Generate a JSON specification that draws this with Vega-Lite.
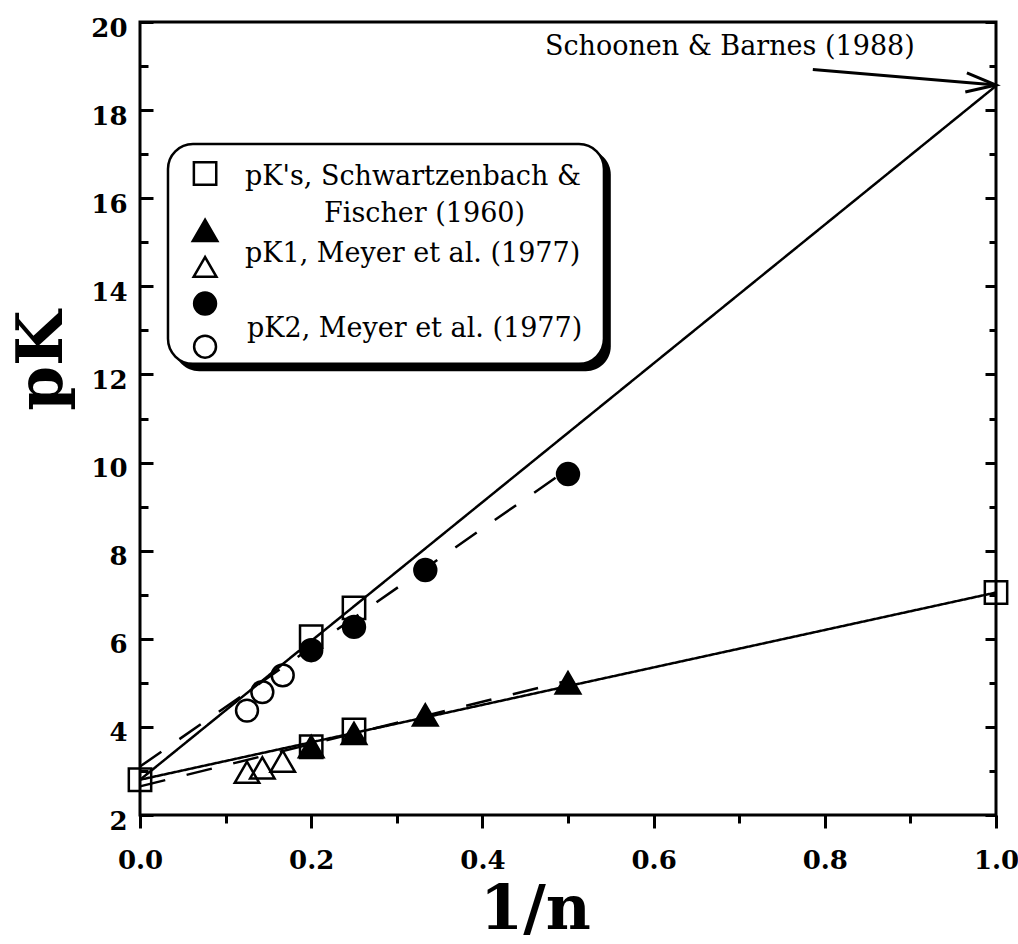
{
  "$schema": "https://vega.github.io/schema/vega-lite/v6.json",
  "width": 856,
  "height": 793,
  "autosize": "none",
  "padding": {"left": 140, "top": 22, "right": 22, "bottom": 129},
  "background": "white",
  "config": {
    "view": {"stroke": "black", "strokeWidth": 3},
    "font": "DejaVu Serif",
    "axis": {
      "grid": false,
      "domain": false,
      "tickColor": "black",
      "tickWidth": 3,
      "labelColor": "black",
      "labelFont": "DejaVu Serif",
      "labelFontWeight": "bold",
      "labelFontSize": 26,
      "labelFlush": false,
      "labelOverlap": false,
      "titleColor": "black",
      "titleFont": "DejaVu Serif",
      "titleFontWeight": "bold"
    }
  },
  "datasets": {
    "fits": [
      {"fit": "pK2 limit", "style": "solid", "x": 0, "y": 2.8},
      {"fit": "pK2 limit", "style": "solid", "x": 1, "y": 18.55},
      {"fit": "pK1 limit", "style": "solid", "x": 0, "y": 2.8},
      {"fit": "pK1 limit", "style": "solid", "x": 1, "y": 7.05},
      {"fit": "pK2 Meyer", "style": "dashed", "x": 0, "y": 3.1},
      {"fit": "pK2 Meyer", "style": "dashed", "x": 0.5, "y": 9.85},
      {"fit": "pK1 Meyer", "style": "dashed", "x": 0, "y": 2.65},
      {"fit": "pK1 Meyer", "style": "dashed", "x": 0.5, "y": 5.05}
    ],
    "measurements": [
      {"series": "Schwartzenbach & Fischer", "x": 0, "y": 2.8},
      {"series": "Schwartzenbach & Fischer", "x": 0.2, "y": 3.55},
      {"series": "Schwartzenbach & Fischer", "x": 0.25, "y": 3.93},
      {"series": "Schwartzenbach & Fischer", "x": 0.2, "y": 6.05},
      {"series": "Schwartzenbach & Fischer", "x": 0.25, "y": 6.7},
      {"series": "Schwartzenbach & Fischer", "x": 1, "y": 7.05},
      {"series": "pK1 Meyer", "x": 0.2, "y": 3.55},
      {"series": "pK1 Meyer", "x": 0.25, "y": 3.85},
      {"series": "pK1 Meyer", "x": 0.3333, "y": 4.27},
      {"series": "pK1 Meyer", "x": 0.5, "y": 5.0},
      {"series": "pK1 Meyer open", "x": 0.125, "y": 2.97},
      {"series": "pK1 Meyer open", "x": 0.1429, "y": 3.07},
      {"series": "pK1 Meyer open", "x": 0.1667, "y": 3.22},
      {"series": "pK2 Meyer", "x": 0.2, "y": 5.74},
      {"series": "pK2 Meyer", "x": 0.25, "y": 6.27},
      {"series": "pK2 Meyer", "x": 0.3333, "y": 7.56},
      {"series": "pK2 Meyer", "x": 0.5, "y": 9.74},
      {"series": "pK2 Meyer open", "x": 0.125, "y": 4.37},
      {"series": "pK2 Meyer open", "x": 0.1429, "y": 4.79},
      {"series": "pK2 Meyer open", "x": 0.1667, "y": 5.17}
    ],
    "one": [{}]
  },
  "resolve": {"axis": {"y": "independent"}},
  "layer": [
    {
      "data": {"name": "fits"},
      "mark": {"type": "line", "stroke": "black", "strokeWidth": 2.5},
      "encoding": {
        "x": {
          "field": "x", "type": "quantitative",
          "scale": {"domain": [0, 1], "nice": false, "zero": false},
          "axis": {
            "orient": "bottom",
            "values": [0, 0.1, 0.2, 0.3, 0.4, 0.5, 0.6, 0.7, 0.8, 0.9, 1.0],
            "format": ".1f",
            "labelExpr": "round(datum.value * 10) % 2 === 0 ? datum.label : ''",
            "tickSize": {"condition": {"test": "round(datum.value * 10) % 2 === 0", "value": 13}, "value": 8},
            "labelPadding": 19,
            "labelBaseline": "top",
            "title": "1/n",
            "titleFontSize": 62,
            "titleX": 395,
            "titleY": 113,
            "titleAlign": "center",
            "titleBaseline": "alphabetic"
          }
        },
        "y": {
          "field": "y", "type": "quantitative",
          "scale": {"domain": [2, 20], "nice": false, "zero": false},
          "axis": {
            "orient": "left",
            "values": [2, 3, 4, 5, 6, 7, 8, 9, 10, 11, 12, 13, 14, 15, 16, 17, 18, 19, 20],
            "labelExpr": "datum.value % 2 === 0 ? datum.label : ''",
            "tickSize": {"condition": {"test": "datum.value % 2 === 0", "value": -13}, "value": -8},
            "labelPadding": 26,
            "labelOffset": 6,
            "title": "pK",
            "titleFontSize": 64,
            "titleX": -98,
            "titleY": 338,
            "titleAlign": "center",
            "titleBaseline": "middle",
            "titleAngle": -90
          }
        },
        "detail": {"field": "fit", "type": "nominal"},
        "strokeDash": {
          "field": "style", "type": "nominal",
          "scale": {"domain": ["solid", "dashed"], "range": [[1, 0], [26, 22]]},
          "legend": null
        }
      }
    },
    {
      "data": {"name": "measurements"},
      "mark": {"type": "point", "stroke": "black", "strokeWidth": 2.5, "opacity": 1},
      "encoding": {
        "x": {"field": "x", "type": "quantitative"},
        "y": {
          "field": "y", "type": "quantitative",
          "axis": {
            "orient": "right",
            "values": [2, 3, 4, 5, 6, 7, 8, 9, 10, 11, 12, 13, 14, 15, 16, 17, 18, 19, 20],
            "labels": false,
            "tickSize": {"condition": {"test": "datum.value % 2 === 0", "value": -11}, "value": -7},
            "title": null
          }
        },
        "shape": {
          "field": "series", "type": "nominal",
          "scale": {
            "domain": ["Schwartzenbach & Fischer", "pK1 Meyer", "pK1 Meyer open", "pK2 Meyer", "pK2 Meyer open"],
            "range": ["square", "triangle-up", "triangle-up", "circle", "circle"]
          },
          "legend": null
        },
        "fill": {
          "field": "series", "type": "nominal",
          "scale": {
            "domain": ["Schwartzenbach & Fischer", "pK1 Meyer", "pK1 Meyer open", "pK2 Meyer", "pK2 Meyer open"],
            "range": ["transparent", "black", "transparent", "black", "transparent"]
          },
          "legend": null
        },
        "size": {
          "field": "series", "type": "nominal",
          "scale": {
            "type": "ordinal",
            "domain": ["Schwartzenbach & Fischer", "pK1 Meyer", "pK1 Meyer open", "pK2 Meyer", "pK2 Meyer open"],
            "range": [500, 600, 600, 480, 480]
          },
          "legend": null
        }
      }
    },
    {
      "data": {"name": "one"},
      "mark": {"type": "rect", "fill": "black", "cornerRadius": 25},
      "encoding": {
        "x": {"datum": 0.04, "type": "quantitative"},
        "x2": {"datum": 0.55},
        "y": {"datum": 17.1, "type": "quantitative", "axis": null},
        "y2": {"datum": 12.07}
      }
    },
    {
      "data": {"name": "one"},
      "mark": {"type": "rect", "fill": "white", "stroke": "black", "strokeWidth": 2.5, "cornerRadius": 25},
      "encoding": {
        "x": {"datum": 0.0327, "type": "quantitative"},
        "x2": {"datum": 0.542},
        "y": {"datum": 17.23, "type": "quantitative", "axis": null},
        "y2": {"datum": 12.24}
      }
    },
    {
      "data": {"name": "one"},
      "mark": {"type": "point", "shape": "square", "size": 500, "stroke": "black", "strokeWidth": 2.5, "fill": "transparent", "opacity": 1},
      "encoding": {
        "x": {"datum": 0.076, "type": "quantitative"},
        "y": {"datum": 16.56, "type": "quantitative", "axis": null}
      }
    },
    {
      "data": {"name": "one"},
      "mark": {"type": "point", "shape": "triangle-up", "size": 600, "stroke": "black", "strokeWidth": 2.5, "fill": "black", "opacity": 1},
      "encoding": {
        "x": {"datum": 0.076, "type": "quantitative"},
        "y": {"datum": 15.27, "type": "quantitative", "axis": null}
      }
    },
    {
      "data": {"name": "one"},
      "mark": {"type": "point", "shape": "triangle-up", "size": 520, "stroke": "black", "strokeWidth": 2.5, "fill": "transparent", "opacity": 1},
      "encoding": {
        "x": {"datum": 0.076, "type": "quantitative"},
        "y": {"datum": 14.44, "type": "quantitative", "axis": null}
      }
    },
    {
      "data": {"name": "one"},
      "mark": {"type": "point", "shape": "circle", "size": 480, "stroke": "black", "strokeWidth": 2.5, "fill": "black", "opacity": 1},
      "encoding": {
        "x": {"datum": 0.076, "type": "quantitative"},
        "y": {"datum": 13.61, "type": "quantitative", "axis": null}
      }
    },
    {
      "data": {"name": "one"},
      "mark": {"type": "point", "shape": "circle", "size": 480, "stroke": "black", "strokeWidth": 2.5, "fill": "transparent", "opacity": 1},
      "encoding": {
        "x": {"datum": 0.076, "type": "quantitative"},
        "y": {"datum": 12.63, "type": "quantitative", "axis": null}
      }
    },
    {
      "data": {"name": "one"},
      "mark": {"type": "text", "text": "pK's, Schwartzenbach &", "align": "left", "baseline": "alphabetic", "font": "DejaVu Serif", "fontSize": 27, "fill": "black"},
      "encoding": {
        "x": {"datum": 0.1227, "type": "quantitative"},
        "y": {"datum": 16.3, "type": "quantitative", "axis": null}
      }
    },
    {
      "data": {"name": "one"},
      "mark": {"type": "text", "text": "Fischer (1960)", "align": "left", "baseline": "alphabetic", "font": "DejaVu Serif", "fontSize": 27, "fill": "black"},
      "encoding": {
        "x": {"datum": 0.215, "type": "quantitative"},
        "y": {"datum": 15.47, "type": "quantitative", "axis": null}
      }
    },
    {
      "data": {"name": "one"},
      "mark": {"type": "text", "text": "pK1, Meyer et al. (1977)", "align": "left", "baseline": "alphabetic", "font": "DejaVu Serif", "fontSize": 27, "fill": "black"},
      "encoding": {
        "x": {"datum": 0.1227, "type": "quantitative"},
        "y": {"datum": 14.56, "type": "quantitative", "axis": null}
      }
    },
    {
      "data": {"name": "one"},
      "mark": {"type": "text", "text": "pK2, Meyer et al. (1977)", "align": "left", "baseline": "alphabetic", "font": "DejaVu Serif", "fontSize": 27, "fill": "black"},
      "encoding": {
        "x": {"datum": 0.125, "type": "quantitative"},
        "y": {"datum": 12.86, "type": "quantitative", "axis": null}
      }
    },
    {
      "data": {"name": "one"},
      "mark": {"type": "text", "text": "Schoonen & Barnes (1988)", "align": "left", "baseline": "middle", "font": "DejaVu Serif", "fontSize": 27, "fill": "black"},
      "encoding": {
        "x": {"datum": 0.473, "type": "quantitative"},
        "y": {"datum": 19.43, "type": "quantitative", "axis": null}
      }
    },
    {
      "data": {"name": "one"},
      "mark": {"type": "rule", "stroke": "black", "strokeWidth": 3},
      "encoding": {
        "x": {"datum": 0.786, "type": "quantitative"},
        "x2": {"datum": 1.0},
        "y": {"datum": 18.92, "type": "quantitative", "axis": null},
        "y2": {"datum": 18.57}
      }
    },
    {
      "data": {"name": "one"},
      "mark": {"type": "point", "shape": "M-1,-0.32L0,0L-1,0.32", "size": 3600, "angle": 4.8, "stroke": "black", "strokeWidth": 3, "fill": "transparent", "opacity": 1},
      "encoding": {
        "x": {"datum": 1.0, "type": "quantitative"},
        "y": {"datum": 18.57, "type": "quantitative", "axis": null}
      }
    }
  ]
}
